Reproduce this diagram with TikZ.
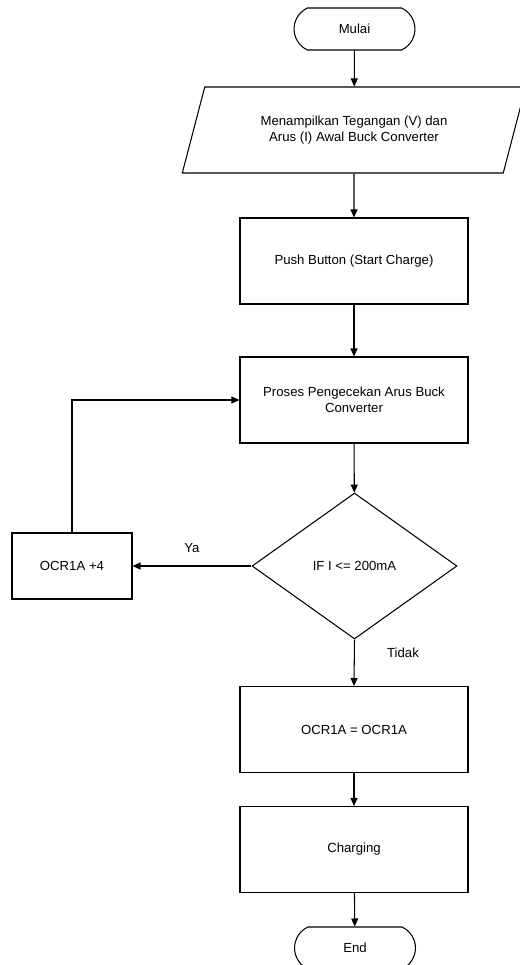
\documentclass[tikz,border=0pt]{standalone}
\usepackage{fontspec}
\setmainfont{Liberation Sans}
\usetikzlibrary{arrows.meta,shapes.geometric,shapes.misc}

\tikzset{
	flow/.style={draw, line width=0.6pt, align=center, inner sep=0pt, font=\fontsize{7.5}{9}\selectfont},
	terminal/.style={flow, rounded rectangle, rounded rectangle arc length=130, minimum width=2.42cm, minimum height=0.84cm},
	process/.style={flow, rectangle, minimum width=4.56cm, minimum height=1.72cm},
	smallbox/.style={flow, rectangle, minimum width=2.4cm, minimum height=1.32cm},
	inout/.style={flow, trapezium, trapezium left angle=63.4, trapezium right angle=116.6, trapezium stretches=true, minimum width=6.88cm, minimum height=1.72cm},
	decision/.style={flow, diamond, minimum width=4.1cm, minimum height=2.92cm},
	flowarrow/.style={->, line width=0.6pt},
	flowlabel/.style={font=\fontsize{7.5}{9}\selectfont}
}

\begin{document}
\begin{tikzpicture}[x=0.02cm, y=-0.02cm, >={Triangle[length=1.6mm,width=1.4mm]}]
		\clip (0, 0) rectangle (520, 965);
	
		\node[terminal] (mulai) at (354.5, 29) {Mulai};
		\node[inout] (tampil) at (354, 130) {Menampilkan Tegangan (V) dan\\Arus (I) Awal Buck Converter};
		\node[process] (tombol) at (354, 261) {Push Button (Start Charge)};
		\node[process] (cek) at (354, 400) {Proses Pengecekan Arus Buck\\Converter};
		\node[decision] (kondisi) at (354.5, 566) {IF I <= 200mA};
		\node[smallbox] (tambah) at (72, 566) {OCR1A +4};
		\node[process] (tetap) at (354, 729.5) {OCR1A = OCR1A};
		\node[process] (charging) at (354, 849.5) {Charging};
		\node[terminal] (selesai) at (355, 948) {End};
		
		\draw[flowarrow] (mulai) -- (tampil);
		\draw[flowarrow] (tampil) -- (tombol);
		\draw[flowarrow] (tombol) -- (cek);
		\draw[flowarrow] (cek) -- (kondisi);
		\draw[flowarrow] (kondisi.west) -- (tambah.east);
		\draw[flowarrow] (tambah.north) |- (cek.west);
		\draw[flowarrow] (kondisi.south) -- (tetap.north);
		\draw[flowarrow] (tetap) -- (charging);
		\draw[flowarrow] (charging) -- (selesai);
		
		\node[flowlabel] (ya) at (192, 548) {Ya};
		\node[flowlabel] (tidak) at (403, 653) {Tidak};
\end{tikzpicture}
\end{document}
